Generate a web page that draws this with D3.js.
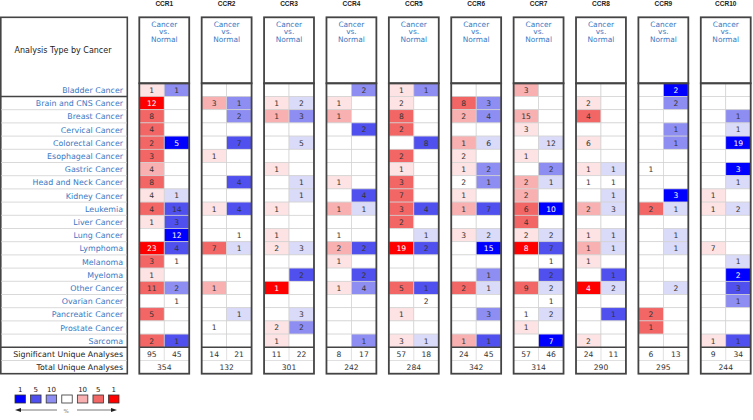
<!DOCTYPE html>
<html>
<head>
<meta charset="utf-8">
<script src="https://cdn.jsdelivr.net/npm/d3@7/dist/d3.min.js"></script>
<style>
    body { margin: 0; background: #fff; }
    svg { display: block; }
</style>
</head>
<body>
<svg id="chart" width="753" height="420"></svg>
<script>
var genes = ["CCR1", "CCR2", "CCR3", "CCR4", "CCR5", "CCR6", "CCR7", "CCR8", "CCR9", "CCR10"];
var cancers = ["Bladder Cancer", "Brain and CNS Cancer", "Breast Cancer", "Cervical Cancer",
    "Colorectal Cancer", "Esophageal Cancer", "Gastric Cancer", "Head and Neck Cancer",
    "Kidney Cancer", "Leukemia", "Liver Cancer", "Lung Cancer", "Lymphoma", "Melanoma",
    "Myeloma", "Other Cancer", "Ovarian Cancer", "Pancreatic Cancer", "Prostate Cancer", "Sarcoma"];

// over-expression counts per gene (0 = empty cell)
var upCounts = [
    [1, 12, 8, 4, 2, 3, 4, 8, 4, 4, 1, 0, 23, 3, 1, 11, 0, 5, 0, 2],
    [0, 3, 0, 0, 0, 1, 0, 0, 0, 1, 0, 0, 7, 0, 0, 1, 0, 0, 1, 0],
    [0, 1, 1, 0, 0, 0, 1, 0, 0, 1, 0, 1, 2, 0, 0, 1, 0, 0, 2, 1],
    [0, 1, 1, 0, 0, 0, 0, 1, 0, 1, 0, 1, 2, 1, 0, 1, 0, 0, 0, 0],
    [1, 2, 8, 2, 0, 2, 1, 3, 7, 3, 2, 0, 19, 0, 0, 5, 0, 1, 0, 3],
    [0, 8, 2, 0, 1, 2, 1, 2, 1, 1, 0, 3, 0, 0, 0, 2, 0, 0, 0, 1],
    [3, 0, 15, 3, 0, 1, 0, 2, 2, 6, 4, 2, 8, 0, 0, 9, 0, 1, 1, 0],
    [0, 2, 4, 0, 6, 0, 1, 1, 0, 2, 0, 1, 1, 1, 0, 4, 0, 0, 0, 2],
    [0, 0, 0, 0, 0, 0, 1, 0, 0, 2, 0, 0, 0, 0, 0, 0, 0, 2, 1, 0],
    [0, 0, 0, 0, 0, 0, 0, 0, 1, 1, 0, 0, 7, 0, 0, 0, 0, 0, 0, 1]
];
// shade of the over-expression cell: 0 white, 1 top 1%, 2 top 5%, 3 top 10%, 4 lighter
var upShade = [
    [4, 1, 2, 2, 2, 2, 3, 2, 4, 2, 4, 0, 1, 2, 4, 2, 0, 2, 0, 2],
    [0, 3, 0, 0, 0, 4, 0, 0, 0, 4, 0, 0, 2, 0, 0, 3, 0, 0, 0, 0],
    [0, 4, 3, 0, 0, 0, 4, 0, 0, 4, 0, 4, 4, 0, 0, 1, 0, 0, 4, 4],
    [0, 4, 3, 0, 0, 0, 0, 4, 0, 3, 0, 0, 3, 4, 0, 4, 0, 0, 0, 0],
    [4, 4, 2, 2, 0, 2, 4, 2, 2, 2, 2, 0, 1, 0, 0, 2, 0, 4, 0, 4],
    [0, 2, 3, 0, 3, 4, 4, 0, 4, 3, 0, 4, 0, 0, 0, 2, 0, 0, 0, 3],
    [3, 0, 3, 4, 0, 4, 0, 3, 3, 2, 2, 4, 1, 0, 0, 2, 0, 0, 4, 0],
    [0, 4, 2, 0, 4, 0, 4, 0, 0, 3, 0, 4, 3, 4, 0, 1, 0, 0, 0, 4],
    [0, 0, 0, 0, 0, 0, 0, 0, 0, 2, 0, 0, 0, 0, 0, 0, 0, 2, 2, 0],
    [0, 0, 0, 0, 0, 0, 0, 0, 4, 4, 0, 0, 4, 0, 0, 0, 0, 0, 0, 4]
];
// under-expression counts per gene
var downCounts = [
    [1, 0, 0, 0, 5, 0, 0, 0, 1, 14, 3, 12, 4, 1, 0, 2, 1, 0, 0, 1],
    [0, 1, 2, 0, 7, 0, 0, 4, 0, 4, 0, 1, 1, 0, 0, 0, 0, 1, 0, 0],
    [0, 2, 3, 0, 5, 0, 0, 1, 1, 0, 0, 0, 3, 0, 2, 0, 0, 3, 2, 0],
    [2, 0, 0, 2, 0, 0, 0, 0, 4, 1, 0, 0, 2, 0, 2, 4, 0, 0, 0, 1],
    [1, 0, 0, 0, 8, 0, 0, 0, 0, 4, 0, 1, 2, 0, 0, 1, 2, 0, 0, 1],
    [0, 3, 4, 0, 6, 0, 2, 1, 0, 7, 0, 2, 15, 0, 1, 1, 0, 3, 0, 1],
    [0, 0, 0, 0, 12, 0, 2, 1, 0, 10, 0, 2, 7, 1, 2, 2, 1, 2, 0, 7],
    [0, 0, 0, 0, 0, 0, 1, 1, 1, 3, 0, 1, 1, 0, 1, 2, 0, 1, 0, 0],
    [2, 2, 0, 1, 1, 0, 0, 0, 3, 1, 0, 1, 1, 0, 0, 2, 0, 0, 0, 0],
    [0, 0, 1, 1, 19, 0, 3, 1, 0, 2, 0, 0, 0, 1, 2, 3, 1, 0, 0, 1]
];
var downShade = [
    [3, 0, 0, 0, 1, 0, 0, 0, 4, 2, 2, 1, 2, 0, 0, 3, 0, 0, 0, 2],
    [0, 3, 3, 0, 2, 0, 0, 2, 0, 2, 0, 0, 4, 0, 0, 0, 0, 4, 0, 0],
    [0, 4, 3, 0, 4, 0, 0, 4, 4, 0, 0, 0, 4, 0, 2, 0, 0, 4, 3, 0],
    [3, 0, 0, 2, 0, 0, 0, 0, 2, 4, 0, 0, 2, 0, 2, 3, 0, 0, 0, 3],
    [3, 0, 0, 0, 2, 0, 0, 0, 0, 2, 0, 4, 2, 0, 0, 2, 0, 0, 0, 4],
    [0, 3, 3, 0, 4, 0, 3, 3, 0, 2, 0, 4, 1, 0, 3, 4, 0, 3, 0, 2],
    [0, 0, 0, 0, 4, 0, 3, 4, 0, 1, 0, 4, 2, 0, 2, 4, 0, 4, 0, 1],
    [0, 0, 0, 0, 0, 0, 4, 0, 4, 4, 0, 4, 4, 0, 2, 4, 0, 2, 0, 0],
    [1, 3, 0, 3, 3, 0, 0, 0, 1, 4, 0, 4, 4, 0, 0, 4, 0, 0, 0, 0],
    [0, 0, 3, 4, 1, 0, 1, 4, 0, 4, 0, 0, 0, 4, 1, 2, 3, 0, 0, 2]
];
var sigUp = [95, 14, 11, 8, 57, 24, 57, 24, 6, 9];
var sigDown = [45, 21, 22, 17, 18, 45, 46, 11, 13, 34];
var totals = [354, 132, 301, 242, 284, 342, 314, 290, 295, 244];
var legendLabels = ["1", "5", "10", "", "10", "5", "1"];

var redShades = ["#ffffff", "#ff0000", "#f26666", "#f8b0b0", "#fde3e3"];
var blueShades = ["#ffffff", "#0000ff", "#5050ee", "#8e8ef2", "#dadaf9"];
var legendColors = ["#0000ff", "#5050ee", "#8e8ef2", "#ffffff", "#f8b0b0", "#f26666", "#ff0000"];

var svg = d3.select("#chart");
var font = "'DejaVu Sans', Verdana, sans-serif";
var blueText = "#3a78c3";
var headTop = 17.3, headBottom = 83.3;

var rowNames = cancers.concat(["Significant Unique Analyses", "Total Unique Analyses"]);
var y = d3.scaleBand().domain(rowNames).range([headBottom, 373.7]);
var x = d3.scaleBand().domain(genes).range([139.3, 750.7]).paddingInner(0.2);
var side = d3.scaleBand().domain(["up", "down"]).range([0, x.bandwidth()]);
var sumTop = y("Significant Unique Analyses");
var tableBottom = y.range()[1];

//left table
var left = svg.append("g");
left.append("rect")
    .attr("x", 0.8).attr("y", headTop)
    .attr("width", 126.5).attr("height", tableBottom - headTop)
    .attr("fill", "#fff").attr("stroke", "#444").attr("stroke-width", 1.6);
left.append("text")
    .attr("x", 63).attr("y", (headTop + headBottom) / 2 + 3)
    .attr("text-anchor", "middle")
    .style("font-family", font).style("font-size", "8px").attr("fill", "#222")
    .text("Analysis Type by Cancer");
left.selectAll("line.row")
    .data(rowNames.slice(1))
    .enter()
    .append("line")
    .attr("x1", 1).attr("x2", 127)
    .attr("y1", function (d) { return y(d); })
    .attr("y2", function (d) { return y(d); })
    .attr("stroke", function (d, i) { return (i == 0 || i == 19) ? "#444" : "#cfcfcf"; })
    .attr("stroke-width", function (d, i) { return (i == 0 || i == 19) ? 1.6 : 0.8; });
left.selectAll("text.row")
    .data(rowNames)
    .enter()
    .append("text")
    .attr("x", 123)
    .attr("y", function (d) { return y(d) + y.bandwidth() / 2 + 3; })
    .attr("text-anchor", "end")
    .style("font-family", font).style("font-size", "7.9px")
    .attr("fill", function (d, i) { return i < 20 ? blueText : "#222"; })
    .text(function (d) { return d; });

//gene columns
genes.forEach(function (gene, g) {
    var gx = x(gene);
    var bw = x.bandwidth();
    var col = svg.append("g");

    col.append("text")
        .attr("x", gx + bw / 2).attr("y", 6)
        .attr("text-anchor", "middle")
        .style("font-family", "'Liberation Sans', Arial, sans-serif")
        .style("font-size", "6.5px").style("font-weight", "bold")
        .attr("fill", "#222")
        .text(gene);

    col.append("rect")
        .attr("x", gx).attr("y", headTop)
        .attr("width", bw).attr("height", tableBottom - headTop)
        .attr("fill", "#fff");

    ["Cancer", "vs.", "Normal"].forEach(function (t, k) {
        col.append("text")
            .attr("x", gx + bw / 2).attr("y", 26.6 + k * 7.8)
            .attr("text-anchor", "middle")
            .style("font-family", font).style("font-size", "7.4px")
            .attr("fill", blueText)
            .text(t);
    });

    var cells = [];
    cancers.forEach(function (c, r) {
        cells.push({ row: c, side: "up", n: upCounts[g][r], shade: upShade[g][r] });
        cells.push({ row: c, side: "down", n: downCounts[g][r], shade: downShade[g][r] });
    });

    col.selectAll("rect.cell")
        .data(cells)
        .enter()
        .append("rect")
        .attr("x", function (d) { return gx + side(d.side); })
        .attr("y", function (d) { return y(d.row); })
        .attr("width", side.bandwidth())
        .attr("height", y.bandwidth())
        .attr("fill", function (d) {
            return d.side == "up" ? redShades[d.shade] : blueShades[d.shade];
        })
        .attr("stroke", "#d2d2d2").attr("stroke-width", 0.7);

    col.selectAll("text.cell")
        .data(cells.filter(function (d) { return d.n > 0; }))
        .enter()
        .append("text")
        .attr("x", function (d) { return gx + side(d.side) + side.bandwidth() / 2; })
        .attr("y", function (d) { return y(d.row) + y.bandwidth() / 2 + 2.8; })
        .attr("text-anchor", "middle")
        .style("font-family", font).style("font-size", "7.6px")
        .attr("fill", function (d) { return d.shade == 1 ? "#fff" : "#333"; })
        .text(function (d) { return d.n; });

    //summary rows
    var sy = y("Significant Unique Analyses");
    var ty = y("Total Unique Analyses");
    col.append("line")
        .attr("x1", gx + bw / 2).attr("x2", gx + bw / 2)
        .attr("y1", sy).attr("y2", ty)
        .attr("stroke", "#d2d2d2").attr("stroke-width", 0.7);
    col.append("line")
        .attr("x1", gx).attr("x2", gx + bw)
        .attr("y1", ty).attr("y2", ty)
        .attr("stroke", "#d2d2d2").attr("stroke-width", 0.7);
    [sigUp[g], sigDown[g]].forEach(function (v, k) {
        col.append("text")
            .attr("x", gx + side(k == 0 ? "up" : "down") + side.bandwidth() / 2)
            .attr("y", sy + y.bandwidth() / 2 + 2.8)
            .attr("text-anchor", "middle")
            .style("font-family", font).style("font-size", "7.6px")
            .attr("fill", "#333")
            .text(v);
    });
    col.append("text")
        .attr("x", gx + bw / 2)
        .attr("y", ty + y.bandwidth() / 2 + 2.8)
        .attr("text-anchor", "middle")
        .style("font-family", font).style("font-size", "7.6px")
        .attr("fill", "#333")
        .text(totals[g]);

    //thick frames
    col.append("rect")
        .attr("x", gx).attr("y", headTop)
        .attr("width", bw).attr("height", headBottom - headTop)
        .attr("fill", "none").attr("stroke", "#444").attr("stroke-width", 1.8);
    col.append("rect")
        .attr("x", gx).attr("y", headBottom)
        .attr("width", bw).attr("height", tableBottom - headBottom)
        .attr("fill", "none").attr("stroke", "#444").attr("stroke-width", 1.8);
    col.append("line")
        .attr("x1", gx).attr("x2", gx + bw)
        .attr("y1", sumTop).attr("y2", sumTop)
        .attr("stroke", "#444").attr("stroke-width", 1.6);
});

//legend
var lx = d3.scaleBand().domain(d3.range(7)).range([15, 119]).paddingInner(0.33);
var legend = svg.append("g");
legend.selectAll("rect")
    .data(legendColors)
    .enter()
    .append("rect")
    .attr("x", function (d, i) { return lx(i); })
    .attr("y", 395)
    .attr("width", lx.bandwidth()).attr("height", 8)
    .attr("fill", function (d) { return d; })
    .attr("stroke", "#333").attr("stroke-width", 0.8);
legend.selectAll("text")
    .data(legendLabels)
    .enter()
    .append("text")
    .attr("x", function (d, i) { return lx(i) + lx.bandwidth() / 2; })
    .attr("y", 391.5)
    .attr("text-anchor", "middle")
    .style("font-family", font).style("font-size", "7px")
    .attr("fill", "#222")
    .text(function (d) { return d; });
legend.append("line")
    .attr("x1", 19).attr("x2", 57).attr("y1", 410).attr("y2", 410)
    .attr("stroke", "#555").attr("stroke-width", 0.8);
legend.append("path")
    .attr("d", "M15,410 L21,408 L21,412 Z").attr("fill", "#222");
legend.append("line")
    .attr("x1", 77).attr("x2", 113).attr("y1", 410).attr("y2", 410)
    .attr("stroke", "#555").attr("stroke-width", 0.8);
legend.append("path")
    .attr("d", "M117,410 L111,408 L111,412 Z").attr("fill", "#222");
legend.append("text")
    .attr("x", 66).attr("y", 413)
    .attr("text-anchor", "middle")
    .style("font-family", font).style("font-size", "5.5px")
    .attr("fill", "#777")
    .text("%");
</script>
</body>
</html>
